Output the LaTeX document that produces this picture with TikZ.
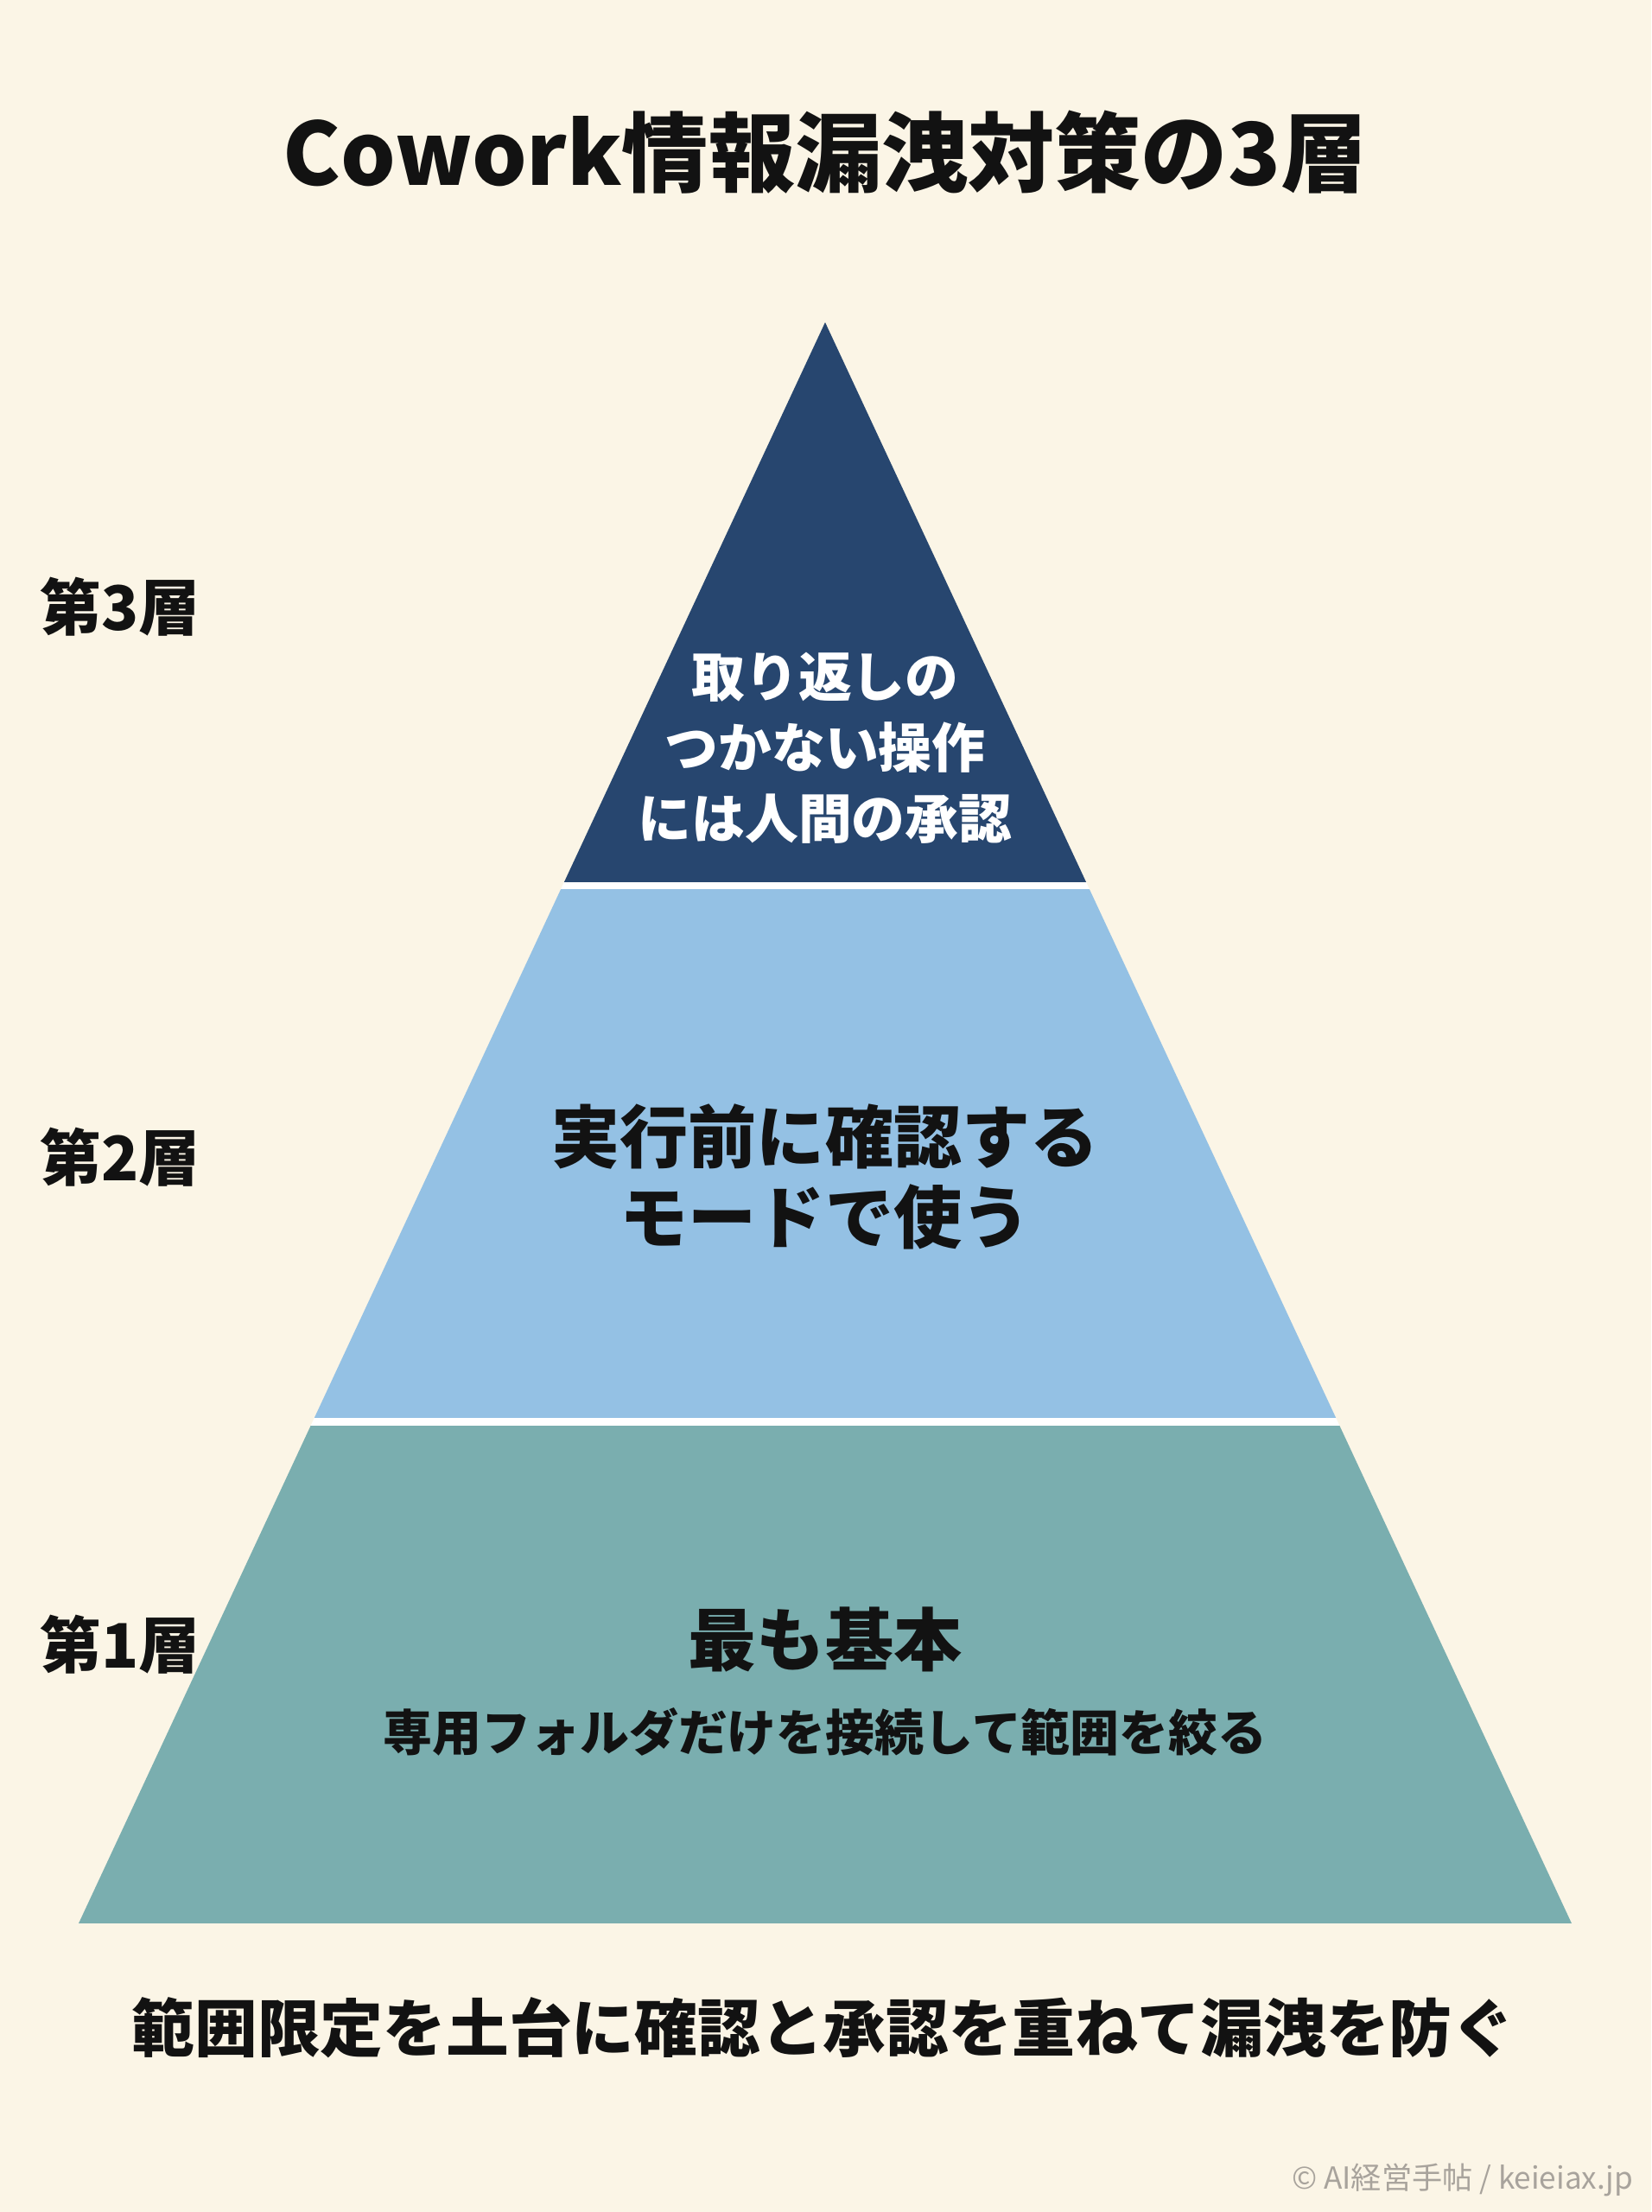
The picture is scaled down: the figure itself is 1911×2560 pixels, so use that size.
\documentclass[tikz,border=0pt]{standalone}
\usepackage{fontspec}
\setmainfont{Noto Sans CJK JP}
\definecolor{Cream}{RGB}{251,245,230}
\definecolor{NavyTop}{RGB}{39,70,111}
\definecolor{SkyMid}{RGB}{148,193,228}
\definecolor{TealBase}{RGB}{122,174,175}
\definecolor{InkGray}{RGB}{168,163,156}
\usetikzlibrary{positioning}

\begin{document}
\begin{tikzpicture}[
    x=0.1mm, y=-0.1mm,
    every node/.style={inner sep=0pt, text=black!93},
    heading/.style={font=\fontsize{28.5}{34}\selectfont\bfseries},
    tier/.style={anchor=west, font=\fontsize{20.2}{24}\selectfont\bfseries},
    big/.style={align=center, font=\fontsize{22.5}{26.5}\selectfont\bfseries},
    small/.style={align=center, font=\fontsize{16.2}{20}\selectfont\bfseries}
  ]
    \fill[Cream] (0,0) rectangle (1911,2560);
    \useasboundingbox (0,0) rectangle (1911,2560);

    % pyramid, cut into three bands
    \coordinate (apex) at (955,373);
    \coordinate (baseL) at (91,2226);
    \coordinate (baseR) at (1819,2226);
    \begin{scope}
      \clip (apex) -- (baseL) -- (baseR) -- cycle;
      \fill[NavyTop] (0,300) rectangle (1911,1021);
      \fill[white] (0,1021) rectangle (1911,1029);
      \fill[SkyMid] (0,1029) rectangle (1911,1641);
      \fill[white] (0,1641) rectangle (1911,1650);
      \fill[TealBase] (0,1650) rectangle (1911,2226);
    \end{scope}

    \node[heading] (ttl) at (955,176) {Cowork情報漏洩対策の3層};

    \node[tier] (t3) at (46,702) {第3層};
    \node[tier] (t2) at (46,1339) {第2層};
    \node[tier] (t1) at (46,1903) {第1層};

    \node[align=center, text=white, font=\fontsize{17.6}{23.3}\selectfont\bfseries] (top) at (955,866) {取り返しの\\つかない操作\\には人間の承認};
    \node[big] (mid) at (955,1362) {実行前に確認する\\モードで使う};
    \node[big] (kihon) at (955,1898) {最も基本};
    \node[small, below=3.9mm of kihon] (scope) {専用フォルダだけを接続して範囲を絞る};

    \node[font=\fontsize{20.7}{24}\selectfont\bfseries] (msg) at (953,2347) {範囲限定を土台に確認と承認を重ねて漏洩を防ぐ};
    \node[anchor=east, text=InkGray, font=\fontsize{10}{12}\selectfont] (credit) at (1891,2523) {© AI経営手帖 / keieiax.jp};
  \end{tikzpicture}
\end{document}
